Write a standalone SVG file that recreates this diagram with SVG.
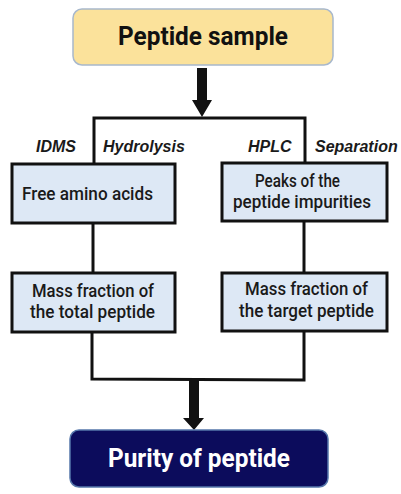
<svg xmlns="http://www.w3.org/2000/svg" width="401" height="494" viewBox="0 0 401 494">
<defs>
<style>
.box{fill:#dde8f5;stroke:#111;stroke-width:3}
.lbl{font-family:Roboto,"Liberation Sans",Arial,sans-serif;font-size:17.5px;font-weight:500;fill:#1a1a1a;text-anchor:middle}
.it{font-family:"Liberation Sans",Arial,sans-serif;font-size:16px;font-weight:bold;font-style:italic;fill:#1a1a1a}
.ln{fill:none;stroke:#111;stroke-width:3}
.big{font-family:Roboto,"Liberation Sans",Arial,sans-serif;font-size:25px;font-weight:bold;text-anchor:middle}
</style>
</defs>
<rect width="401" height="494" fill="#fff"/>
<g id="connectors">
<polygon points="197,68 207,68 207,100 212,100 202,117 192,100 197,100" fill="#111"/>
<polyline class="ln" points="94,164 94,118 305,118 305,164"/>
<line class="ln" x1="93" y1="223" x2="93" y2="273"/>
<line class="ln" x1="304" y1="221" x2="304" y2="273"/>
<polyline class="ln" points="92,332 92,379 304,380 304,331"/>
<polygon points="189,380 199,380 199,418 204,418 194,430 183,418 189,418" fill="#111"/>
</g>
<g id="labels">
<text class="it" x="36" y="152">IDMS</text>
<text class="it" x="103" y="152">Hydrolysis</text>
<text class="it" x="248" y="152">HPLC</text>
<text class="it" x="315" y="152">Separation</text>
</g>
<g id="peptide-sample">
<rect x="73" y="9" width="260" height="56" rx="9" fill="#fbe29b" stroke="#a8b8cc" stroke-width="1.5"/>
<text class="big" x="203" y="45" fill="#111" textLength="170" lengthAdjust="spacingAndGlyphs">Peptide sample</text>
</g>
<g id="free-amino-acids">
<rect class="box" x="12" y="164" width="163" height="59"/>
<text class="lbl" x="87.5" y="200" textLength="131" lengthAdjust="spacingAndGlyphs">Free amino acids</text>
</g>
<g id="peaks">
<rect class="box" x="222" y="163" width="165" height="58"/>
<text class="lbl" x="297.5" y="187" textLength="85" lengthAdjust="spacingAndGlyphs">Peaks of the</text>
<text class="lbl" x="302" y="208" textLength="138" lengthAdjust="spacingAndGlyphs">peptide impurities</text>
</g>
<g id="mass-total">
<rect class="box" x="12" y="273" width="163" height="59"/>
<text class="lbl" x="93" y="297" textLength="122" lengthAdjust="spacingAndGlyphs">Mass fraction of</text>
<text class="lbl" x="92.5" y="318" textLength="125" lengthAdjust="spacingAndGlyphs">the total peptide</text>
</g>
<g id="mass-target">
<rect class="box" x="222" y="273" width="165" height="58"/>
<text class="lbl" x="306.5" y="295" textLength="123" lengthAdjust="spacingAndGlyphs">Mass fraction of</text>
<text class="lbl" x="306.5" y="317" textLength="135" lengthAdjust="spacingAndGlyphs">the target peptide</text>
</g>
<g id="purity">
<rect x="70" y="430" width="258" height="57" rx="9" fill="#0c0c5c" stroke="#5577aa" stroke-width="1.5"/>
<text class="big" x="199" y="467" fill="#fff" textLength="182" lengthAdjust="spacingAndGlyphs">Purity of peptide</text>
</g>
</svg>
